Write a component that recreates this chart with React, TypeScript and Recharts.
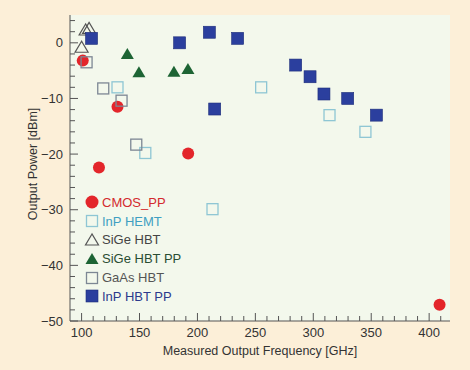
import { ScatterChart, Scatter, XAxis, YAxis, CartesianGrid } from 'recharts'

const FONT = '"Liberation Sans", Arial, sans-serif'
const AXIS = '#555'
const TEXT = '#333'

const cmosFreq = [101, 131, 115, 192, 409]
const cmosPower = [-3.2, -11.5, -22.4, -19.9, -47.1]

const hemtFreq = [131, 155, 255, 213, 314, 345]
const hemtPower = [-8.0, -19.8, -8.0, -29.9, -13.0, -16.0]

const sigeFreq = [103.5, 106.5, 100]
const sigePower = [2.3, 2.6, -0.8]

const sigePPFreq = [139.5, 149.5, 179.7, 191.8]
const sigePPPower = [-2.0, -5.3, -5.2, -4.7]

const gaasFreq = [104.3, 118.7, 134.5, 147.2]
const gaasPower = [-3.5, -8.2, -10.4, -18.3]

const inpPPFreq = [108.6, 184.6, 210.3, 234.7, 214.9, 284.8, 297.2, 309.2, 329.7, 354.5]
const inpPPPower = [0.8, 0.0, 1.9, 0.8, -11.9, -4.0, -6.1, -9.2, -10.0, -13.0]

const xLabels = [100, 150, 200, 250, 300, 350, 400]
const xTicks = [100, 110, 120, 130, 140, 150, 160, 170, 180, 190, 200, 210, 220, 230, 240, 250, 260, 270, 280, 290, 300, 310, 320, 330, 340, 350, 360, 370, 380, 390, 400, 410]
const yLabels = [0, -10, -20, -30, -40, -50]
const yTicks = [4, 2, 0, -2, -4, -6, -8, -10, -12, -14, -16, -18, -20, -22, -24, -26, -28, -30, -32, -34, -36, -38, -40, -42, -44, -46, -48, -50]

const pts = (f: number[], p: number[]) => f.map((x, i) => ({ x, y: p[i] }))

const fmt = (v: number) => (v < 0 ? '\u2212' + Math.abs(v) : String(v))

const SERIES = [
  { name: 'CMOS_PP', data: pts(cmosFreq, cmosPower), kind: 'circle', color: '#e3262b', text: '#d42a2e' },
  { name: 'InP HEMT', data: pts(hemtFreq, hemtPower), kind: 'openSquare', color: '#8ec6d4', text: '#3f9fc2' },
  { name: 'SiGe HBT', data: pts(sigeFreq, sigePower), kind: 'openTriangle', color: '#555', text: '#444' },
  { name: 'SiGe HBT PP', data: pts(sigePPFreq, sigePPPower), kind: 'triangle', color: '#1d6434', text: '#2a4d33' },
  { name: 'GaAs HBT', data: pts(gaasFreq, gaasPower), kind: 'openSquare', color: '#7d8794', text: '#555' },
  { name: 'InP HBT PP', data: pts(inpPPFreq, inpPPPower), kind: 'square', color: '#2b3f9e', text: '#2c3a8c' },
]

function Marker({ kind, color, cx, cy, s = 6 }: any) {
  if (kind === 'circle') return <circle cx={cx} cy={cy} r={s} fill={color} />
  if (kind === 'square')
    return <rect x={cx - s} y={cy - s} width={2 * s} height={2 * s} fill={color} stroke="#1d2d7a" strokeWidth={0.6} />
  if (kind === 'openSquare')
    return <rect x={cx - s + 0.5} y={cy - s + 0.5} width={2 * s - 1} height={2 * s - 1} fill="none" stroke={color} strokeWidth={1.3} />
  const pts = `${cx},${cy - s} ${cx - s - 0.5},${cy + s - 1} ${cx + s + 0.5},${cy + s - 1}`
  if (kind === 'triangle') return <polygon points={pts} fill={color} />
  return <polygon points={pts} fill="none" stroke={color} strokeWidth={1.2} />
}

const BottomTick = ({ x, y, payload }: any) => {
  const major = xLabels.includes(payload.value)
  return (
    <g>
      <line x1={x} x2={x} y1={y} y2={y - (major ? 8 : 5)} stroke={AXIS} />
      {major && (
        <text x={x} y={y + 16} textAnchor="middle" fontSize={13} fill={TEXT} fontFamily={FONT}>
          {payload.value}
        </text>
      )}
    </g>
  )
}

const TopTick = ({ x, y, payload }: any) => {
  const major = xLabels.includes(payload.value)
  return <line x1={x} x2={x} y1={y} y2={y + (major ? 8 : 5)} stroke={AXIS} />
}

const LeftTick = ({ x, y, payload }: any) => {
  const major = yLabels.includes(payload.value)
  return (
    <g>
      <line x1={x} x2={x + (major ? 8 : 5)} y1={y} y2={y} stroke={AXIS} />
      {major && (
        <text x={x - 7} y={y + 4.5} textAnchor="end" fontSize={13} fill={TEXT} fontFamily={FONT}>
          {fmt(payload.value)}
        </text>
      )}
    </g>
  )
}

const RightTick = ({ x, y, payload }: any) => {
  const major = yLabels.includes(payload.value)
  return <line x1={x} x2={x - (major ? 8 : 5)} y1={y} y2={y} stroke={AXIS} />
}

export default function App() {
  return (
    <div style={{ position: 'absolute', left: 0, top: 0, width: 470, height: 370, background: '#fcefd8', fontFamily: FONT }}>
      <ScatterChart width={470} height={370} margin={{ top: 15, right: 20, bottom: 19, left: 20 }}>
        <CartesianGrid fill="#f3f8ec" horizontal={false} vertical={false} />
        <XAxis
          type="number"
          dataKey="x"
          domain={[90, 418]}
          ticks={xTicks}
          interval={0}
          tickSize={0}
          tickMargin={0}
          tickLine={false}
          tick={<BottomTick />}
          height={30}
          axisLine={{ stroke: AXIS }}
          label={{
            content: ({ viewBox }: any) => (
              <text x={viewBox.x + viewBox.width / 2} y={viewBox.y + 34} textAnchor="middle" fontSize={12.5} fill={TEXT} fontFamily={FONT}>
                Measured Output Frequency [GHz]
              </text>
            ),
          }}
        />
        <XAxis
          xAxisId="top"
          orientation="top"
          type="number"
          domain={[90, 418]}
          ticks={xTicks}
          interval={0}
          tickSize={0}
          tickMargin={0}
          tickLine={false}
          tick={<TopTick />}
          height={0}
          axisLine={{ stroke: AXIS }}
        />
        <YAxis
          type="number"
          dataKey="y"
          domain={[-50, 5]}
          ticks={yTicks}
          interval={0}
          tickSize={0}
          tickMargin={0}
          tickLine={false}
          tick={<LeftTick />}
          width={50}
          axisLine={{ stroke: AXIS }}
          label={{
            content: ({ viewBox }: any) => {
              const cx = viewBox.x + 13
              const cy = viewBox.y + viewBox.height / 2 - 4
              return (
                <text x={cx} y={cy} transform={`rotate(-90 ${cx} ${cy})`} textAnchor="middle" dominantBaseline="central" fontSize={12.5} fill={TEXT} fontFamily={FONT}>
                  Output Power [dBm]
                </text>
              )
            },
          }}
        />
        <YAxis
          yAxisId="right"
          orientation="right"
          type="number"
          domain={[-50, 5]}
          ticks={yTicks}
          interval={0}
          tickSize={0}
          tickMargin={0}
          tickLine={false}
          tick={<RightTick />}
          width={0}
          axisLine={{ stroke: AXIS }}
        />
        {SERIES.map((s) => (
          <Scatter
            key={s.name}
            name={s.name}
            data={s.data}
            isAnimationActive={false}
            shape={(p: any) => <Marker kind={s.kind} color={s.color} cx={p.cx} cy={p.cy} />}
          />
        ))}
      </ScatterChart>
      <div style={{ position: 'absolute', left: 84, top: 193 }}>
        {SERIES.map((s) => (
          <div key={s.name} style={{ display: 'flex', alignItems: 'center', height: 18.8, fontSize: 13, color: s.text, whiteSpace: 'nowrap' }}>
            <svg width={16} height={16} style={{ marginRight: 2 }}>
              <Marker kind={s.kind} color={s.color} cx={8} cy={8} s={s.kind === 'circle' ? 6.5 : 6} />
            </svg>
            <span>{s.name}</span>
          </div>
        ))}
      </div>
    </div>
  )
}
